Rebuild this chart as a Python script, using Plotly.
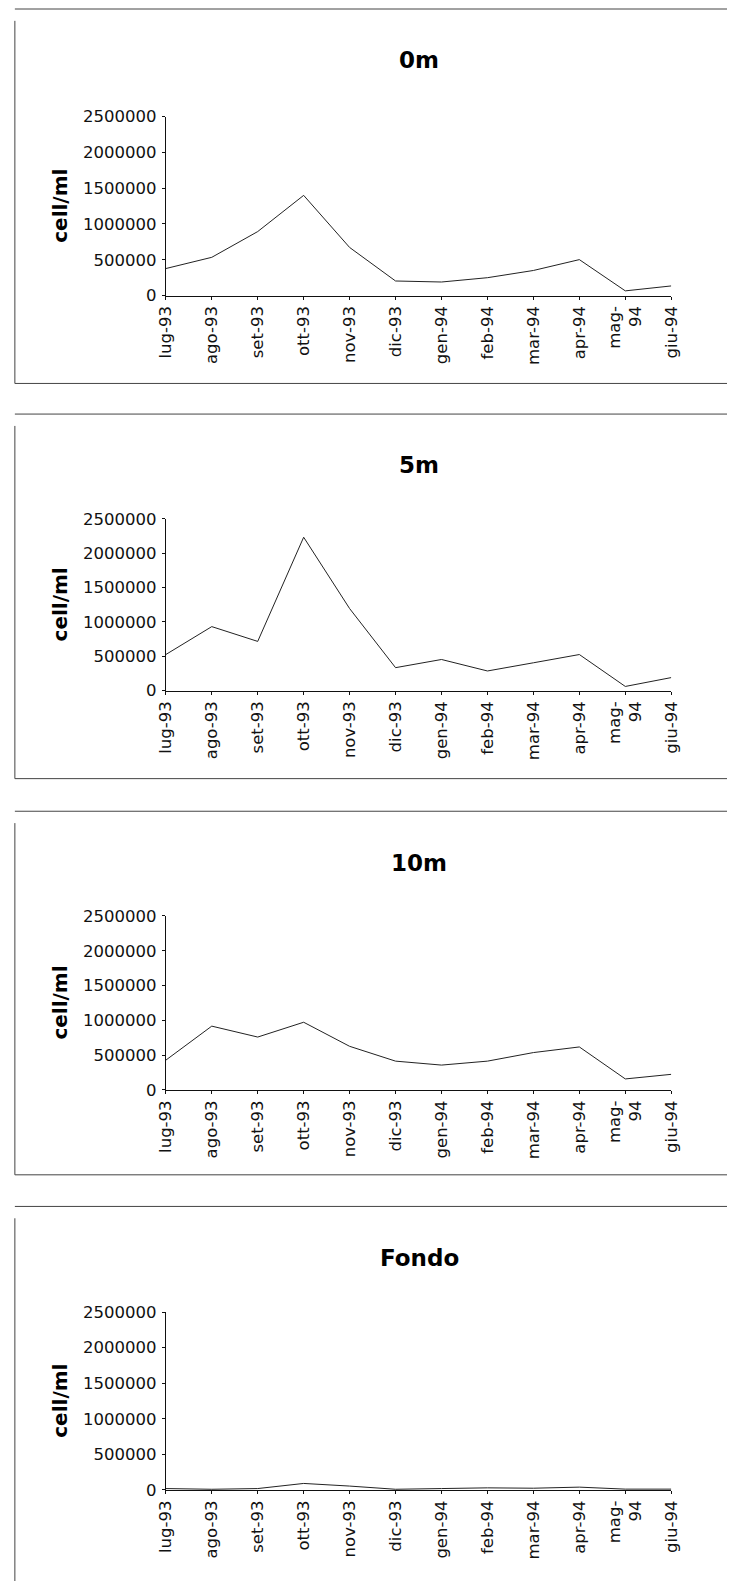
import plotly.graph_objects as go

# Monthly sampling dates (Jul 1993 - Jun 1994)
months = ["lug-93", "ago-93", "set-93", "ott-93", "nov-93", "dic-93",
          "gen-94", "feb-94", "mar-94", "apr-94", "mag-94", "giu-94"]
month_labels = ["lug-93", "ago-93", "set-93", "ott-93", "nov-93", "dic-93",
                "gen-94", "feb-94", "mar-94", "apr-94", "mag-<br>94", "giu-94"]

# Cell densities (cell/ml) at each sampling depth
depth_0m = [377000, 534000, 894000, 1400000, 672000, 203000,
            189000, 249000, 350000, 502000, 65000, 134000]
depth_5m = [526000, 932000, 717000, 2232000, 1195000, 335000,
            454000, 287000, 406000, 526000, 62000, 191000]
depth_10m = [427000, 916000, 759000, 972000, 626000, 413000,
             356000, 413000, 536000, 617000, 157000, 223000]
depth_fondo = [20000, 10000, 20000, 92000, 55000, 10000,
               20000, 30000, 25000, 40000, 12000, 12000]

panel_titles = ["0m", "5m", "10m", "Fondo"]
series = [depth_0m, depth_5m, depth_10m, depth_fondo]
y_ticks = [0, 500000, 1000000, 1500000, 2000000, 2500000]

# The page body keeps its default 8px margin, so the figure is sized to the
# remaining window area and page pixel positions are offset by that margin.
PAGE_MARGIN = 8
W, H = 735 - PAGE_MARGIN, 1589 - PAGE_MARGIN

# Panel geometry in page pixels
plot_x = (168, 687)
plot_y = [(117, 298), (524, 698), (926, 1102), (1327, 1507)]
frame_y = [(8, 387), (418, 787), (820, 1188), (1220, 1610)]
title_y = [60, 470, 872, 1272]


def px(x):
    return (x - PAGE_MARGIN) / W


def py(y):
    return 1 - (y - PAGE_MARGIN) / H


fig = go.Figure()
shapes = []
annotations = []
tick_font = dict(family="DejaVu Sans", size=16.5, color="#111")

for i, (name, vals) in enumerate(zip(panel_titles, series)):
    n = i + 1
    xa = "x" if n == 1 else f"x{n}"
    ya = "y" if n == 1 else f"y{n}"
    fig.add_trace(go.Scatter(
        x=months, y=vals, mode="lines", xaxis=xa, yaxis=ya,
        line=dict(color="#222", width=1), showlegend=False,
        hoverinfo="skip",
    ))
    top, bot = plot_y[i]
    fig.layout[f"xaxis{'' if n == 1 else n}"] = dict(
        domain=[px(plot_x[0]), px(plot_x[1])],
        anchor=ya, type="category",
        categoryorder="array", categoryarray=months,
        range=[0, len(months) - 1], autorange=False,
        tickmode="array", tickvals=months, ticktext=month_labels,
        tickangle=-90, ticks="outside", ticklen=3, tickcolor="#111",
        showline=True, linecolor="#111", linewidth=1,
        showgrid=False, zeroline=False, tickfont=tick_font,
        fixedrange=True,
    )
    fig.layout[f"yaxis{'' if n == 1 else n}"] = dict(
        domain=[py(bot), py(top)], anchor=xa,
        range=[0, 2500000], autorange=False,
        tickmode="array", tickvals=y_ticks,
        ticktext=[str(v) for v in y_ticks],
        ticks="outside", ticklen=3, tickcolor="#111",
        showline=True, linecolor="#111", linewidth=1,
        showgrid=False, zeroline=False, tickfont=tick_font,
        ticklabelstandoff=2, fixedrange=True,
    )

    # panel frame (top, left, bottom edges)
    f0, f1 = frame_y[i]
    frame_line = dict(color="#444", width=1)
    shapes.append(dict(type="line", xref="paper", yref="paper",
                       x0=px(13), x1=px(760), y0=py(f0), y1=py(f0), line=frame_line))
    shapes.append(dict(type="line", xref="paper", yref="paper",
                       x0=px(13), x1=px(13), y0=py(f0 + 12), y1=py(f1), line=frame_line))
    shapes.append(dict(type="line", xref="paper", yref="paper",
                       x0=px(13), x1=px(760), y0=py(f1), y1=py(f1), line=frame_line))

    # panel title
    annotations.append(dict(
        text=name, xref="paper", yref="paper",
        x=px(428), y=py(title_y[i]), xanchor="center", yanchor="middle",
        showarrow=False,
        font=dict(family="DejaVu Sans", size=23, color="#000", weight="bold"),
    ))
    # y-axis label
    annotations.append(dict(
        text="<b>cell/ml</b>", xref="paper", yref="paper",
        x=px(59), y=py((top + bot) / 2), xanchor="center", yanchor="middle",
        textangle=-90, showarrow=False,
        font=dict(family="DejaVu Sans", size=20, color="#000"),
    ))

fig.update_layout(
    width=W, height=H,
    margin=dict(l=0, r=0, t=0, b=0),
    paper_bgcolor="white", plot_bgcolor="white",
    shapes=shapes, annotations=annotations,
    showlegend=False,
)

fig.write_html("out.html")
